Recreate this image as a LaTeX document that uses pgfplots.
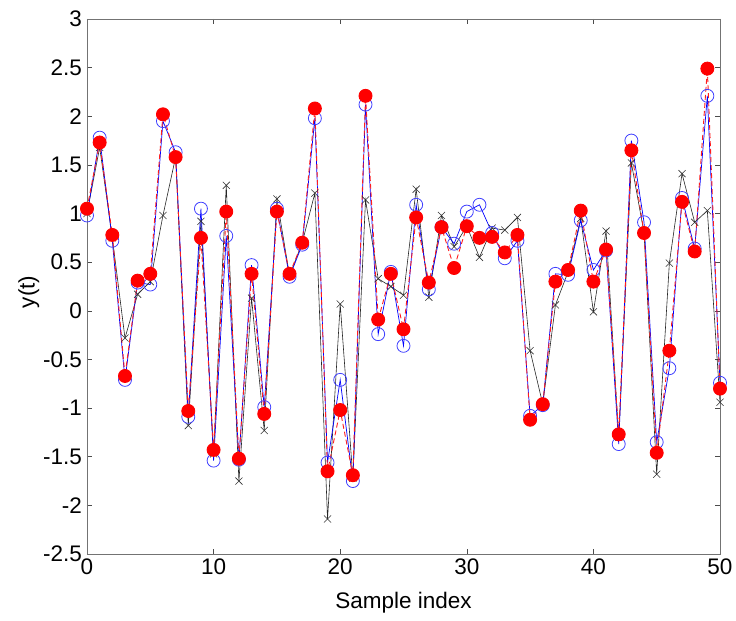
\documentclass[border=0pt]{standalone}
\usepackage{pgfplots}
\pgfplotsset{compat=1.18}
\usepackage{pgfplotstable}
\usepackage{fontspec}
\setmainfont{Liberation Sans}
\pgfplotstableread{
x k b r
0 1.00 0.98 1.05
1 1.68 1.78 1.73
2 0.75 0.72 0.78
3 -0.28 -0.71 -0.67
4 0.17 0.29 0.31
5 0.30 0.27 0.38
6 0.98 1.95 2.02
7 1.58 1.63 1.58
8 -1.18 -1.09 -1.03
9 0.92 1.05 0.75
10 -1.47 -1.54 -1.43
11 1.29 0.77 1.02
12 -1.75 -1.53 -1.52
13 0.13 0.47 0.38
14 -1.23 -0.99 -1.06
15 1.15 1.05 1.02
16 0.36 0.35 0.38
17 0.70 0.68 0.70
18 1.21 1.98 2.08
19 -2.14 -1.56 -1.65
20 0.07 -0.71 -1.02
21 -1.72 -1.75 -1.69
22 1.14 2.12 2.21
23 0.33 -0.24 -0.09
24 0.25 0.40 0.38
25 0.16 -0.36 -0.19
26 1.25 1.09 0.96
27 0.14 0.22 0.29
28 0.98 0.86 0.86
29 0.66 0.69 0.44
30 0.87 1.02 0.87
31 0.55 1.09 0.75
32 0.85 0.80 0.76
33 0.83 0.54 0.60
34 0.96 0.72 0.78
35 -0.41 -1.08 -1.12
36 -0.96 -0.97 -0.96
37 0.06 0.38 0.30
38 0.40 0.37 0.42
39 0.95 0.93 1.03
40 -0.01 0.42 0.30
41 0.82 0.62 0.63
42 -1.30 -1.37 -1.27
43 1.52 1.75 1.65
44 0.80 0.91 0.80
45 -1.68 -1.35 -1.46
46 0.49 -0.59 -0.41
47 1.41 1.16 1.12
48 0.91 0.64 0.61
49 1.03 2.21 2.49
50 -0.94 -0.74 -0.80
}\data
\begin{document}
\begin{tikzpicture}
\begin{axis}[
  scale only axis, width=633pt, height=535pt,
  xmin=0, xmax=50, ymin=-2.5, ymax=3,
  xtick={0,10,...,50}, ytick={-2.5,-2,...,3},
  tick align=inside, tickpos=both, major tick length=5pt,
  axis line style={black!55, line width=0.9pt},
  tick style={black!70, line width=0.6pt},
  /pgf/number format/assume math mode=true,
  ticklabel style={font=\fontsize{22.5}{26}\selectfont},
  xticklabel style={yshift=-1.5pt},
  yticklabel style={xshift=-1.5pt},
  xlabel={Sample index}, ylabel={y(t)},
  label style={font=\fontsize{22.5}{26}\selectfont},
  xlabel style={at={(axis description cs:0.5,-0.0916)}, anchor=center},
  ylabel style={at={(axis description cs:-0.092,0.49)}, anchor=center},
  clip=false,
]
\addplot[black!85, line width=0.6pt, mark=x, mark size=5pt, mark options={solid, black!80}] table[x=x,y=k] {\data};
\addplot[blue, line width=0.7pt, mark=o, mark size=6.5pt, mark options={solid, blue!75, line width=0.8pt}] table[x=x,y=b] {\data};
\addplot[red!85!pink, line width=0.9pt, dash pattern=on 5pt off 3pt, mark=*, mark size=6.5pt, mark options={solid, fill=red, draw=red}] table[x=x,y=r] {\data};
\end{axis}
\pgfresetboundingbox
\path[use as bounding box] ([shift={(-87pt,-67pt)}]current axis.south west) rectangle ([shift={(16pt,19pt)}]current axis.north east);
\end{tikzpicture}
\end{document}
